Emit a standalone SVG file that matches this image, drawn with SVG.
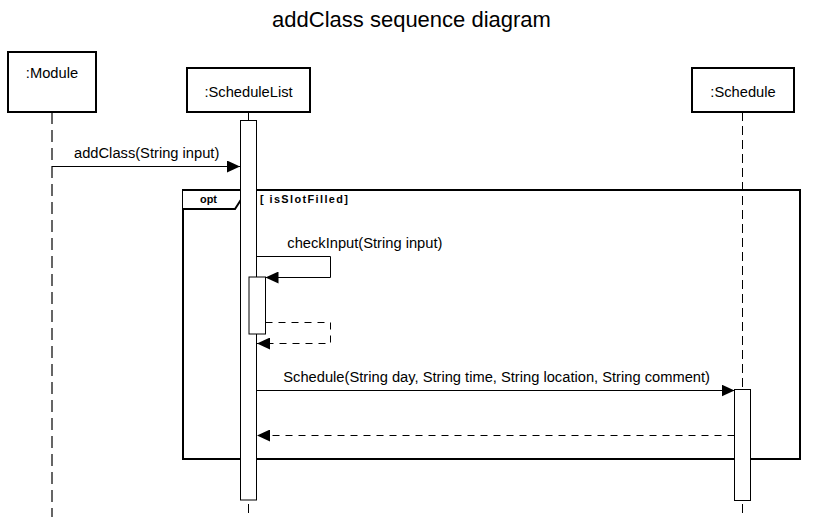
<svg xmlns="http://www.w3.org/2000/svg" width="824" height="517" viewBox="0 0 824 517">
<style>
text{font-family:"Liberation Sans",Arial,sans-serif;fill:#000}
.lbl{font-size:14.7px}
.title{font-size:22px}
.b{font-size:10.9px;font-weight:bold}
.box{fill:#fff;stroke:#000;stroke-width:2}
.act{fill:#fff;stroke:#000;stroke-width:1}
.life{fill:none;stroke:#000;stroke-width:1;stroke-dasharray:9 5}
.msg{fill:none;stroke:#000;stroke-width:1}
.ret{fill:none;stroke:#000;stroke-width:1;stroke-dasharray:7 6}
</style>
<defs>
<marker id="ah" markerWidth="13" markerHeight="12" refX="13" refY="6" orient="auto" markerUnits="userSpaceOnUse">
<path d="M0,0 L13,6 L0,12 Z" fill="#000"/>
</marker>
</defs>
<rect width="824" height="517" fill="#fff"/>
<text class="title" x="411.5" y="26.5" text-anchor="middle">addClass sequence diagram</text>

<g id="lifelines">
<line class="life" x1="52" y1="112" x2="52" y2="517" style="stroke-width:1.5;stroke-dasharray:12 6;stroke:#333"/>
<line class="life" x1="248.5" y1="112" x2="248.5" y2="517"/>
<line class="life" x1="742.5" y1="112" x2="742.5" y2="517"/>
</g>

<g id="frame-opt">
<rect x="183" y="190" width="617" height="269" fill="none" stroke="#000" stroke-width="2"/>
<path d="M183,190 L244,190 L244,195 L235,209 L183,209" fill="#fff" stroke="#000" stroke-width="2"/>
<text class="b" x="208.5" y="203.3" text-anchor="middle">opt</text>
<text class="b" x="260" y="203.3" textLength="88" lengthAdjust="spacing">[ isSlotFilled]</text>
</g>

<g id="node-module">
<rect class="box" x="8" y="52" width="88" height="60"/>
<text class="lbl" x="52" y="78.3" text-anchor="middle">:Module</text>
</g>
<g id="node-schedulelist">
<rect class="box" x="187" y="68" width="123" height="44"/>
<text class="lbl" x="248.5" y="96.7" text-anchor="middle">:ScheduleList</text>
<rect class="act" x="240.5" y="120.5" width="16" height="379.5"/>
<rect class="act" x="249" y="277" width="16.5" height="57"/>
</g>
<g id="node-schedule">
<rect class="box" x="692" y="68" width="102" height="44"/>
<text class="lbl" x="743" y="96.7" text-anchor="middle">:Schedule</text>
<rect class="act" x="734.5" y="389.5" width="16" height="111"/>
</g>

<g id="connectors">
<line class="msg" x1="52" y1="166.5" x2="240" y2="166.5" marker-end="url(#ah)"/>
<text class="lbl" x="74" y="158.3">addClass(String input)</text>
<path class="msg" d="M256.5,256.5 H330.5 V277.5 H265.5" marker-end="url(#ah)"/>
<text class="lbl" x="287.3" y="248.3">checkInput(String input)</text>
<path class="ret" d="M265.5,322.5 H330.5 V343.5 H257" marker-end="url(#ah)"/>
<line class="msg" x1="256.5" y1="390.5" x2="734.5" y2="390.5" marker-end="url(#ah)"/>
<text class="lbl" x="283.3" y="381.7">Schedule(String day, String time, String location, String comment)</text>
<line class="ret" x1="734.5" y1="435.5" x2="257" y2="435.5" marker-end="url(#ah)"/>
</g>
</svg>
